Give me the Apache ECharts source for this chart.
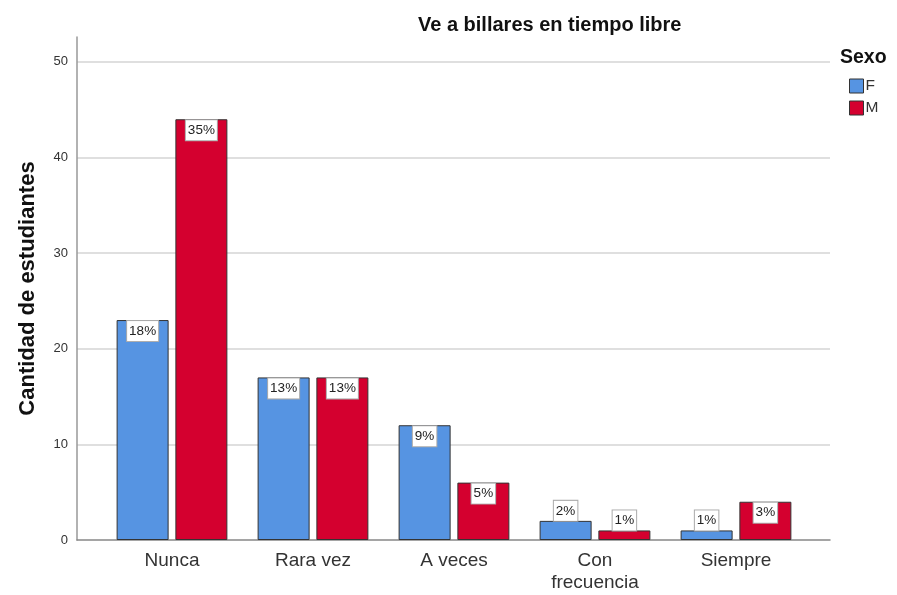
<!DOCTYPE html>
<html><head><meta charset="utf-8">
<script src="https://cdn.jsdelivr.net/npm/echarts@6/dist/echarts.min.js"></script>
<style>html,body{margin:0;padding:0;background:#fff}#c{width:897px;height:595px}</style>
</head><body><div id="c"></div>
<script>
const categories = ['Nunca', 'Rara vez', 'A veces', 'Con\nfrecuencia', 'Siempre'];
const valuesF = [23, 17, 12, 2, 1];
const valuesM = [44, 17, 6, 1, 4];
const pctF = ['18%', '13%', '9%', '2%', '1%'];
const pctM = ['35%', '13%', '5%', '1%', '3%'];
const yTicks = [0, 10, 20, 30, 40, 50];

const colF = '#5694e2', colM = '#d4002f';
const chart = echarts.init(document.getElementById('c'));
const lbl = {
  show: true, color: '#222', fontSize: 13.5, fontFamily: 'Liberation Sans, Arial',
  backgroundColor: '#fff', borderColor: '#aaa', borderWidth: 1,
  padding: [3, 2, 3, 2]
};
function mk(vals, pcts) {
  return vals.map((v, i) => ({
    value: v,
    label: { position: v < 3 ? 'top' : 'insideTop', formatter: pcts[i], distance: v < 3 ? 0 : 1 }
  }));
}
chart.setOption({
  animation: false,
  textStyle: { fontFamily: 'Liberation Sans, Arial' },
  title: {
    text: 'Ve a billares en tiempo libre', left: 413, top: 10,
    textStyle: { fontSize: 20, fontWeight: 'bold', color: '#111' }
  },
  legend: {
    orient: 'vertical', left: 849, top: 78, padding: 0, itemWidth: 14, itemHeight: 14, itemGap: 6,
    icon: 'rect', textStyle: { fontSize: 15.5, color: '#333', padding: [0, 0, 0, -3] },
    itemStyle: { borderColor: '#333', borderWidth: 1 },
    data: ['F', 'M']
  },
  graphic: [
    { type: 'text', left: 840, top: 48, style: { text: 'Sexo', font: 'bold 19.5px Liberation Sans, Arial', fill: '#111' } }
  ],
  grid: [
    { left: 77, right: 67, top: 37, bottom: 55 },
    { left: 101.5, right: 90.5, top: 37, bottom: 55 }
  ],
  xAxis: [
    { gridIndex: 0, type: 'value', min: 0, max: 1, show: true,
      axisLine: { show: true, lineStyle: { color: '#888', width: 1.5 } },
      axisTick: { show: false }, axisLabel: { show: false }, splitLine: { show: false } },
    { gridIndex: 1, type: 'category', data: categories,
      axisLine: { show: false }, axisTick: { show: false },
      axisLabel: { fontSize: 19, color: '#333', margin: 10, lineHeight: 22 } }
  ],
  yAxis: [
    { gridIndex: 0, type: 'value', min: 0, max: 52.6, interval: 10,
      name: 'Cantidad de estudiantes', nameLocation: 'middle', nameGap: 38,
      nameTextStyle: { fontSize: 22, fontWeight: 'bold', color: '#111' },
      axisLine: { show: true, lineStyle: { color: '#999', width: 1.5 } },
      axisTick: { show: false },
      axisLabel: { fontSize: 13, color: '#333', margin: 9, showMaxLabel: false,
        formatter: v => yTicks.indexOf(v) >= 0 ? String(v) : '' },
      splitLine: { show: true, showMaxLine: false, showMinLine: false, lineStyle: { color: '#d4d4d4', width: 1.5 } } },
    { gridIndex: 1, type: 'value', min: 0, max: 52.6, show: false, splitLine: { show: false } }
  ],
  series: [
    { name: 'F', type: 'bar', xAxisIndex: 1, yAxisIndex: 1, data: mk(valuesF, pctF),
      barWidth: 52, barGap: '13%', itemStyle: { color: colF, borderColor: '#333', borderWidth: 1 }, label: lbl },
    { name: 'M', type: 'bar', xAxisIndex: 1, yAxisIndex: 1, data: mk(valuesM, pctM),
      barWidth: 52, barGap: '13%', itemStyle: { color: colM, borderColor: '#333', borderWidth: 1 }, label: lbl }
  ]
});
</script></body></html>
